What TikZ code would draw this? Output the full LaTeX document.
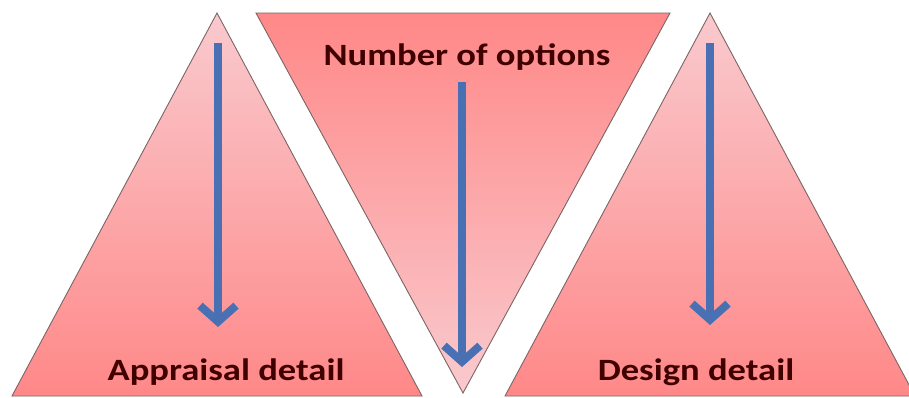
\documentclass[tikz,border=0pt]{standalone}
\usepackage{fontspec}
\setmainfont{Carlito}
\usetikzlibrary{arrows.meta}
\definecolor{pinklight}{RGB}{249,202,206}
\definecolor{salmon}{RGB}{255,136,136}
\definecolor{edgegray}{RGB}{125,100,100}
\definecolor{arrowblue}{RGB}{74,112,180}
\definecolor{textred}{RGB}{64,0,0}
\tikzset{
  tri/.style={draw=edgegray, line width=0.9pt},
  uptri/.style={tri, top color=pinklight, bottom color=salmon},
  downtri/.style={tri, top color=salmon, bottom color=pinklight},
  bluearrow/.style={draw=arrowblue, line width=8pt, -{Straight Barb[length=16pt,width=36pt,line width=8pt]}},
  lbl/.style={font=\bfseries\fontsize{31}{33}\selectfont, text=textred, inner sep=0pt, anchor=base, xscale=1.18}
}
\begin{document}
\begin{tikzpicture}[x=1pt,y=-1pt]
\useasboundingbox (0,0) rectangle (909,397);
% left triangle
\path[uptri] (12,396) -- (217,13) -- (422,396) -- cycle;
% middle inverted triangle
\path[downtri] (256,13) -- (670,13) -- (463,393) -- cycle;
% right triangle
\path[uptri] (505,396) -- (710,13) -- (915,396) -- cycle;
% labels
\node[lbl] (appr) at (226,380) {Appraisal detail};
\node[lbl] (num) at (467,65) {Number of options};
\node[lbl] (des) at (696,380) {Design detail};
% arrows
\coordinate (a1s) at (218,43);
\coordinate (a1e) at (218,327);
\coordinate (a2s) at (462,82);
\coordinate (a2e) at (462,367);
\coordinate (a3s) at (710,43);
\coordinate (a3e) at (710,325);
\draw[bluearrow] (a1s) -- (a1e);
\draw[bluearrow] (a2s) -- (a2e);
\draw[bluearrow] (a3s) -- (a3e);
\end{tikzpicture}
\end{document}
